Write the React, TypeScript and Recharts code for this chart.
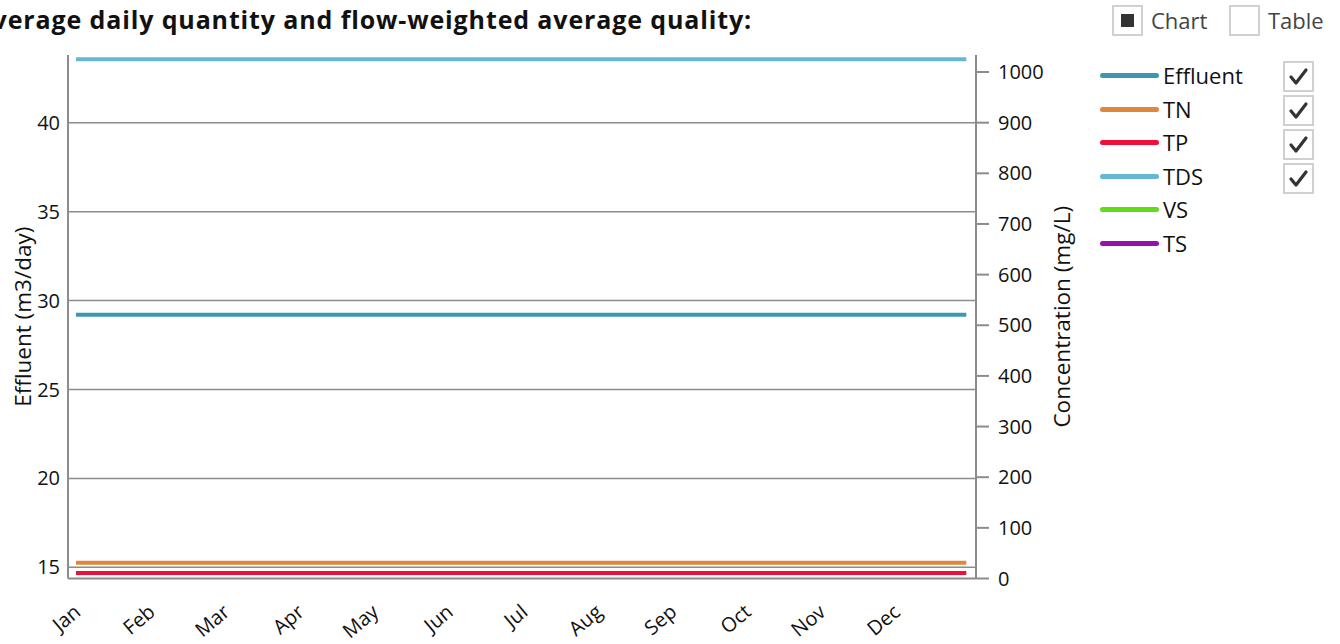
import { CartesianGrid, Label, Line, LineChart, XAxis, YAxis } from "recharts";

const months = ["Jan", "Feb", "Mar", "Apr", "May", "Jun", "Jul", "Aug", "Sep", "Oct", "Nov", "Dec"];
const monthTicks = [0, 1, 2, 3, 4, 5, 6, 7, 8, 9, 10, 11];
const flowTicks = [15, 20, 25, 30, 35, 40];
const concTicks = [0, 100, 200, 300, 400, 500, 600, 700, 800, 900, 1000];

// half-month sample positions (in months from 1 Jan)
const samplePos = [0, 0.5, 1, 1.5, 2, 2.5, 3, 3.5, 4, 4.5, 5, 5.5, 6, 6.5, 7, 7.5, 8, 8.5, 9, 9.5, 10, 10.5, 11, 11.5, 11.95];
const effluent = [29.2, 29.2, 29.2, 29.2, 29.2, 29.2, 29.2, 29.2, 29.2, 29.2, 29.2, 29.2, 29.2, 29.2, 29.2, 29.2, 29.2, 29.2, 29.2, 29.2, 29.2, 29.2, 29.2, 29.2, 29.2];
const tn = [31, 31, 31, 31, 31, 31, 31, 31, 31, 31, 31, 31, 31, 31, 31, 31, 31, 31, 31, 31, 31, 31, 31, 31, 31];
const tp = [11, 11, 11, 11, 11, 11, 11, 11, 11, 11, 11, 11, 11, 11, 11, 11, 11, 11, 11, 11, 11, 11, 11, 11, 11];
const tds = [1025, 1025, 1025, 1025, 1025, 1025, 1025, 1025, 1025, 1025, 1025, 1025, 1025, 1025, 1025, 1025, 1025, 1025, 1025, 1025, 1025, 1025, 1025, 1025, 1025];

const series = [
  { key: "Effluent", color: "#3d97b3", checked: true },
  { key: "TN", color: "#de873f", checked: true },
  { key: "TP", color: "#ef0f3a", checked: true },
  { key: "TDS", color: "#66b6d6", checked: true },
  { key: "VS", color: "#62dc18", checked: false },
  { key: "TS", color: "#9510ac", checked: false },
];

const data = samplePos.map((t, i) => ({
  t,
  Effluent: effluent[i],
  TN: tn[i],
  TP: tp[i],
  TDS: tds[i],
}));

const FONT = "'Open Sans', 'Noto Sans', sans-serif";
const GRAY = "#8c8c8c";

function MonthTick({ x, payload }: any) {
  const ax = x + 6;
  const ay = 614;
  return (
    <text
      x={ax}
      y={ay}
      transform={`rotate(-40 ${ax} ${ay})`}
      textAnchor="end"
      fontSize={20}
      fill="#111"
      fontFamily={FONT}
    >
      {months[payload.value]}
    </text>
  );
}

function Box({ x, y, filled, check }: { x: number; y: number; filled?: boolean; check?: boolean }) {
  return (
    <div
      style={{
        position: "absolute",
        left: x,
        top: y,
        width: 27,
        height: 27,
        border: "2px solid #d0d0d0",
      }}
    >
      {filled && (
        <div style={{ position: "absolute", left: 7, top: 7, width: 13, height: 13, background: "#333" }} />
      )}
      {check && (
        <svg width={27} height={27} style={{ position: "absolute", left: 0, top: 0 }}>
          <polyline points="6,14 11,20 21,7" fill="none" stroke="#333" strokeWidth={3.2} strokeLinecap="round" strokeLinejoin="round" />
        </svg>
      )}
    </div>
  );
}

export default function App() {
  return (
    <div style={{ position: "absolute", left: 0, top: 0, width: 1340, height: 644, background: "#fff", overflow: "hidden", fontFamily: FONT }}>
      <div
        style={{
          position: "absolute",
          right: 588,
          top: 2,
          whiteSpace: "nowrap",
          fontWeight: 700,
          fontSize: 25,
          letterSpacing: 0.87,
          color: "#111",
        }}
      >
        Average daily quantity and flow-weighted average quality:
      </div>

      <Box x={1112} y={5} filled />
      <div style={{ position: "absolute", left: 1151, top: 5, fontSize: 22, color: "#444", lineHeight: "31px" }}>Chart</div>
      <Box x={1229} y={5} />
      <div style={{ position: "absolute", left: 1268, top: 5, fontSize: 22, color: "#444", lineHeight: "31px" }}>Table</div>

      <div style={{ position: "absolute", left: 0, top: 0 }}>
        <LineChart width={1090} height={644} data={data} margin={{ top: 55, right: 0, bottom: 0, left: 0 }}>
          <CartesianGrid horizontal vertical={false} stroke={GRAY} strokeWidth={1.5} yAxisId="flow" horizontalValues={flowTicks} />
          <XAxis
            xAxisId="x"
            dataKey="t"
            type="number"
            domain={[-0.107, 12.08]}
            allowDataOverflow
            ticks={monthTicks}
            interval={0}
            height={65.5}
            tick={<MonthTick />}
            tickLine={false}
            axisLine={{ stroke: GRAY, strokeWidth: 2 }}
          />
          <XAxis
            xAxisId="top"
            dataKey="t"
            type="number"
            orientation="top"
            domain={[-0.107, 12.08]}
            allowDataOverflow
            height={0}
            tick={false}
            tickLine={false}
            axisLine={{ stroke: GRAY, strokeWidth: 2 }}
          />
          <YAxis
            yAxisId="flow"
            orientation="left"
            width={68}
            domain={[14.37, 43.81]}
            allowDataOverflow
            ticks={flowTicks}
            interval={0}
            tickSize={0}
            tickMargin={8}
            tickLine={false}
            axisLine={{ stroke: GRAY, strokeWidth: 2 }}
            tick={{ fontSize: 20, fill: "#111", fontFamily: FONT }}
          >
            <Label
              value="Effluent (m3/day)"
              angle={-90}
              position="insideLeft"
              offset={23}
              style={{ textAnchor: "middle", fontSize: 22.5, fill: "#111", fontFamily: FONT }}
            />
          </YAxis>
          <YAxis
            yAxisId="conc"
            orientation="right"
            width={114}
            domain={[0, 1033.6]}
            allowDataOverflow
            ticks={concTicks}
            interval={0}
            tickSize={13}
            tickMargin={9}
            tickLine={{ stroke: GRAY, strokeWidth: 2 }}
            axisLine={{ stroke: GRAY, strokeWidth: 2 }}
            tick={{ fontSize: 20, fill: "#111", fontFamily: FONT }}
          >
            <Label
              value="Concentration (mg/L)"
              angle={-90}
              position="insideRight"
              offset={28}
              style={{ textAnchor: "middle", fontSize: 22.5, fill: "#111", fontFamily: FONT }}
            />
          </YAxis>
          <Line xAxisId="x" yAxisId="flow" dataKey="Effluent" stroke="#3d97b3" strokeWidth={4} dot={false} isAnimationActive={false} />
          <Line xAxisId="x" yAxisId="conc" dataKey="TN" stroke="#de873f" strokeWidth={4} dot={false} isAnimationActive={false} />
          <Line xAxisId="x" yAxisId="conc" dataKey="TP" stroke="#ef0f3a" strokeWidth={4} dot={false} isAnimationActive={false} />
          <Line xAxisId="x" yAxisId="conc" dataKey="TDS" stroke="#66b6d6" strokeWidth={4} dot={false} isAnimationActive={false} />
        </LineChart>
      </div>

      {series.map((s, i) => (
        <div key={s.key}>
          <div
            style={{
              position: "absolute",
              left: 1100,
              top: 73 + i * 33.6,
              width: 59,
              height: 5,
              borderRadius: 3,
              background: s.color,
            }}
          />
          <div style={{ position: "absolute", left: 1163, top: 60 + i * 33.6, fontSize: 22, color: "#111", lineHeight: "30px" }}>
            {s.key}
          </div>
          {s.checked && <Box x={1283} y={61 + i * 34} check />}
        </div>
      ))}
    </div>
  );
}
